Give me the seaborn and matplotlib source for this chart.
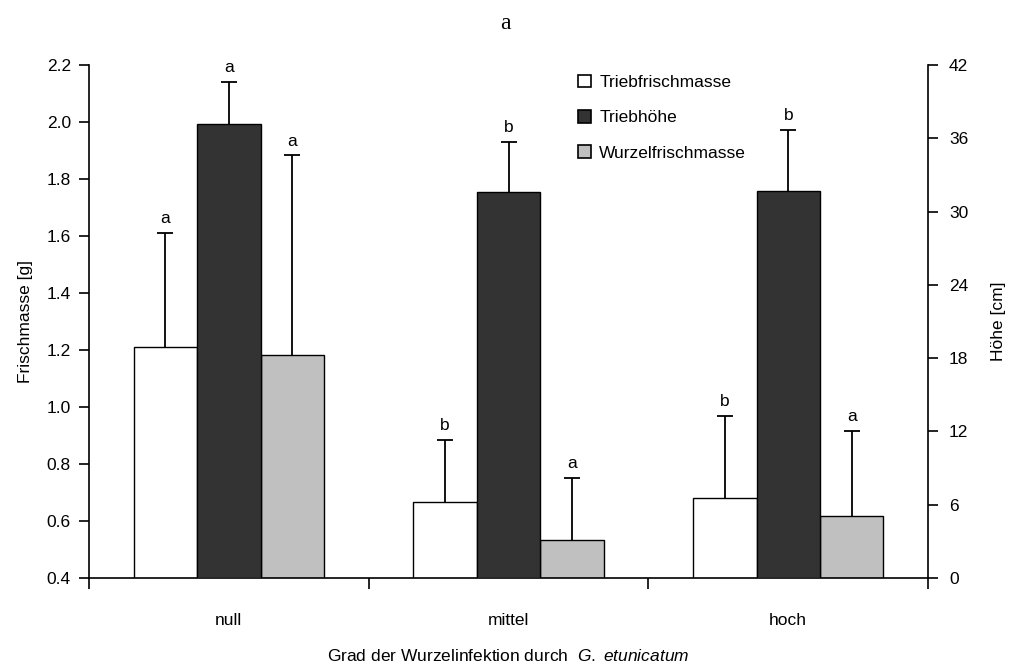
import numpy as np
import pandas as pd
import matplotlib
matplotlib.use("Agg")
import matplotlib.pyplot as plt
from matplotlib.patches import Patch
import seaborn as sns

# ---- data ----
categories = ["null", "mittel", "hoch"]
series = ["Triebfrischmasse", "Triebhöhe", "Wurzelfrischmasse"]
trieb_masse = [1.21, 0.665, 0.68]          # g (left axis)
trieb_masse_err = [0.40, 0.22, 0.29]
trieb_hoehe = [37.2, 31.6, 31.7]           # cm (right axis)
trieb_hoehe_err = [3.4, 4.1, 5.0]
wurzel_masse = [1.183, 0.532, 0.616]       # g (left axis)
wurzel_masse_err = [0.70, 0.22, 0.30]
letters_trieb_masse = ["a", "b", "b"]
letters_trieb_hoehe = ["a", "b", "b"]
letters_wurzel_masse = ["a", "a", "a"]
left_ticks = [0.4, 0.6, 0.8, 1.0, 1.2, 1.4, 1.6, 1.8, 2.0, 2.2]
right_ticks = [0, 6, 12, 18, 24, 30, 36, 42]

colors = {"Triebfrischmasse": "#ffffff", "Triebhöhe": "#333333",
          "Wurzelfrischmasse": "#c0c0c0"}

sns.set_theme(style="white")
FONT = ["Liberation Sans Narrow", "Liberation Sans", "DejaVu Sans"]
plt.rcParams["font.family"] = FONT
plt.rcParams["mathtext.fontset"] = "custom"
plt.rcParams["mathtext.rm"] = "Liberation Sans"
plt.rcParams["mathtext.it"] = "Liberation Sans:italic"
for k in ("text.color", "axes.labelcolor", "xtick.color", "ytick.color", "axes.edgecolor"):
    plt.rcParams[k] = "black"
FS = 12.5

df_left = pd.DataFrame({
    "cat": categories * 2,
    "series": ["Triebfrischmasse"] * 3 + ["Wurzelfrischmasse"] * 3,
    "value": trieb_masse + wurzel_masse,
})
df_right = pd.DataFrame({
    "cat": categories,
    "series": ["Triebhöhe"] * 3,
    "value": trieb_hoehe,
})

fig = plt.figure(figsize=(10.11, 6.72), dpi=100)
ax = fig.add_axes([0.088, 0.140, 0.830, 0.763])
ax2 = ax.twinx()

sns.barplot(data=df_left, x="cat", y="value", hue="series", order=categories,
            hue_order=series, palette=colors, width=0.68, errorbar=None, dodge=True,
            edgecolor="black", linewidth=1.0, legend=False, ax=ax)
sns.barplot(data=df_right, x="cat", y="value", hue="series", order=categories,
            hue_order=series, palette=colors, width=0.68, errorbar=None, dodge=True,
            edgecolor="black", linewidth=1.0, legend=False, ax=ax2)

ax.set_ylim(0.4, 2.2)
ax2.set_ylim(0, 42)
ax.set_xlim(-0.5, 2.5)


def up_err(axis, xc, v, e, letter):
    _, caps, _ = axis.errorbar([xc], [v], yerr=[[0], [e]], fmt="none", ecolor="black",
                               elinewidth=1.3, capsize=6, capthick=1.3, zorder=3)
    caps[0].set_visible(False)  # only the upper cap
    axis.annotate(letter, (xc, v + e), xytext=(0, 5), textcoords="offset points",
                  ha="center", va="bottom", fontsize=FS)


# left axis patches sorted by x: null-TF, null-WF, mittel-TF, ...
lbars = sorted([p for p in ax.patches if p.get_height() > 0], key=lambda p: p.get_x())
lvals, lerrs, llet = [], [], []
for i in range(3):
    lvals += [trieb_masse[i], wurzel_masse[i]]
    lerrs += [trieb_masse_err[i], wurzel_masse_err[i]]
    llet += [letters_trieb_masse[i], letters_wurzel_masse[i]]
for p, v, e, l in zip(lbars, lvals, lerrs, llet):
    up_err(ax, p.get_x() + p.get_width() / 2, v, e, l)

rbars = sorted([p for p in ax2.patches if p.get_height() > 0], key=lambda p: p.get_x())
for p, v, e, l in zip(rbars, trieb_hoehe, trieb_hoehe_err, letters_trieb_hoehe):
    up_err(ax2, p.get_x() + p.get_width() / 2, v, e, l)

# spines
for a in (ax, ax2):
    a.spines["top"].set_visible(False)
    for s in ("left", "right", "bottom"):
        a.spines[s].set_color("black")
        a.spines[s].set_linewidth(1.2)
    a.grid(False)
ax.spines["right"].set_visible(False)
ax2.spines["left"].set_visible(False)
ax2.spines["bottom"].set_visible(False)

ax.set_yticks(left_ticks)
ax.set_yticklabels([f"{t:.1f}" for t in left_ticks], fontsize=FS)
ax.tick_params(axis="y", direction="out", length=7, width=1.2, left=True, pad=6)
ax2.set_yticks(right_ticks)
ax2.set_yticklabels([str(t) for t in right_ticks], fontsize=FS)
ax2.tick_params(axis="y", direction="out", length=7, width=1.2, right=True, pad=8)

ax.set_xticks(range(len(categories)))
ax.set_xticklabels(categories, fontsize=FS)
ax.set_xticks([-0.5, 0.5, 1.5, 2.5], minor=True)
ax.tick_params(axis="x", which="major", length=0, pad=25)
ax.tick_params(axis="x", which="minor", direction="out", length=8, width=1.2, bottom=True)

ax.set_ylabel("Frischmasse [g]", fontsize=FS, labelpad=10)
ax2.set_ylabel("Höhe [cm]", fontsize=FS, labelpad=16)
ax.set_xlabel("Grad der Wurzelinfektion durch  " + r"$\it{G.\ etunicatum}$",
              fontsize=FS, labelpad=15)

fig.text(0.5, 0.965, "a", ha="center", va="center", fontsize=17,
         family=["Liberation Serif", "DejaVu Serif"])

handles = [Patch(facecolor=colors[s], edgecolor="black", linewidth=1.2) for s in series]
leg = ax2.legend(handles, series, loc="upper left", bbox_to_anchor=(0.575, 0.995),
                 frameon=False, fontsize=FS, handlelength=0.75, handleheight=0.75,
                 handletextpad=0.45, labelspacing=1.15, borderaxespad=0)

fig.savefig("out.png", dpi=100)
